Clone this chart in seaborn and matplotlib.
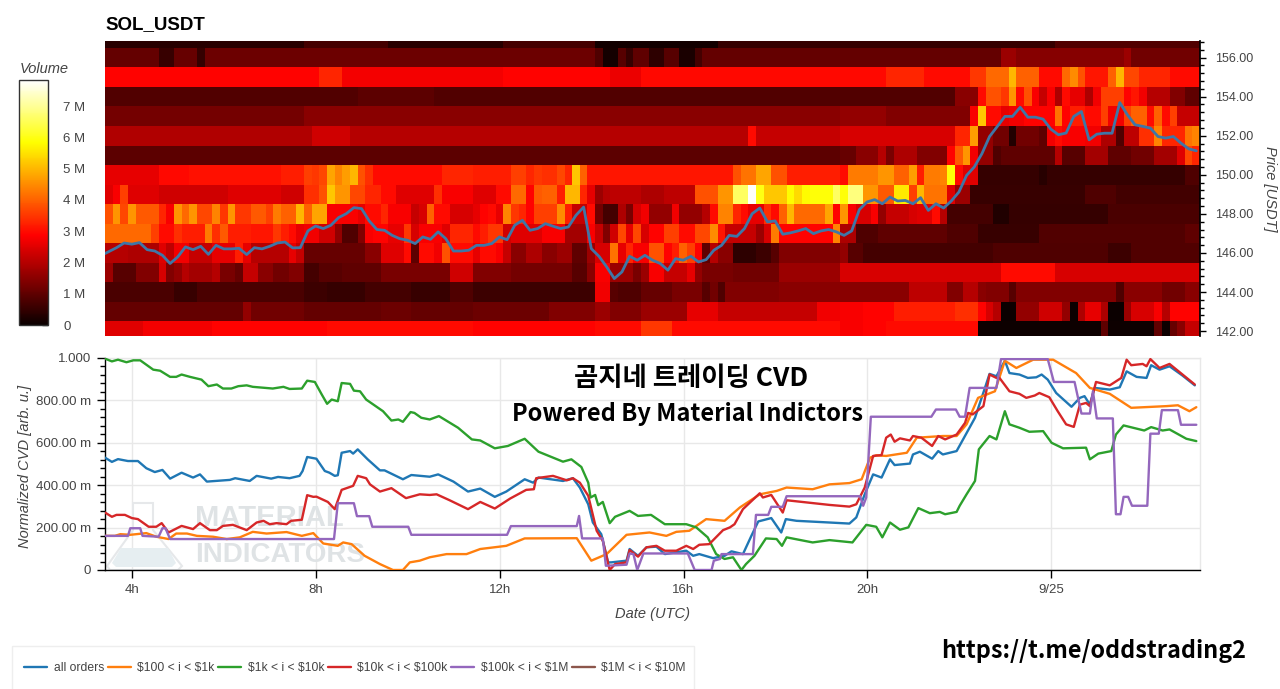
import numpy as np
import pandas as pd
import matplotlib
matplotlib.use("Agg")
import matplotlib.pyplot as plt
from matplotlib.patches import Polygon, Rectangle
from matplotlib.ticker import MultipleLocator, FixedLocator, NullLocator
from matplotlib.transforms import Affine2D
import seaborn as sns

# time axis: 10 minute bins, first bin starts at T0 hours
T0 = 3.41
T1 = 27.24
N_BINS = 143

price_levels = [157, 156, 155, 154, 153, 152, 151, 150, 149, 148, 147, 146, 145, 144, 143, 142]
price_ticks = [156, 154, 152, 150, 148, 146, 144, 142]
volume_ticks = [0, 1, 2, 3, 4, 5, 6, 7]
hour_ticks = [4, 8, 12, 16, 20, 24]
hour_labels = ["4h", "8h", "12h", "16h", "20h", "9/25"]
cvd_ticks = [0, 0.2, 0.4, 0.6, 0.8, 1.0]
cvd_labels = ["0", "200.00 m", "400.00 m", "600.00 m", "800.00 m", "1.000"]

# volume per price row in M, as (last bin of the run, value)
vol_157 = [(25, .35), (36, .7), (51, .35), (63, .7), (79, .12), (81, .5), (123, .5), (142, .85)]
vol_156 = [(6, 1.05), (8, .55), (11, 1.1), (12, .5), (63, 1.15), (64, .8), (66, .15), (67, .9), (68, .5), (70, 1.0),
           (72, .4), (74, .9), (76, .2), (77, .7), (116, 1.05), (118, 1.7), (132, 1.45), (133, 1.7), (142, 1.2)]
vol_155 = [(27, 2.9), (30, 3.3), (51, 2.75), (65, 2.9), (69, 2.65), (101, 2.95), (106, 3.3), (112, 3.0), (114, 3.5),
           (117, 4.1), (118, 5.0), (121, 4.0), (124, 3.0), (125, 4.1), (126, 4.5), (127, 3.8), (130, 3.1), (131, 4.0),
           (132, 5.0), (134, 3.7), (138, 3.3), (142, 3.0)]
vol_154 = [(32, .85), (42, .95), (110, .85), (113, 1.5), (114, 3.0), (116, 3.8), (117, 3.5), (118, 4.6), (119, 3.0),
           (120, 3.8), (121, 2.8), (122, 2.2), (123, 2.8), (124, 1.9), (125, 3.0), (127, 2.6), (128, 1.9), (129, 2.7),
           (132, 3.6), (133, 2.9), (134, 3.1), (135, 2.7), (138, 2.0), (140, 1.4), (142, 1.0)]
vol_153 = [(25, 1.25), (95, 1.5), (101, 1.6), (112, 1.4), (113, 2.8), (114, 5.2), (116, 3.0), (117, 2.6), (119, 2.7),
           (123, 2.9), (124, 4.2), (125, 2.9), (127, 3.2), (129, 3.0), (130, 3.6), (132, 2.7), (133, 3.6), (135, 4.0),
           (136, 3.0), (137, 4.0), (138, 3.0), (139, 3.6), (142, 2.2)]
vol_152 = [(26, 1.95), (31, 2.3), (83, 2.0), (84, 3.0), (95, 2.2), (110, 2.4), (112, 3.3), (113, 4.7), (115, 1.6),
           (117, 1.2), (118, .3), (121, 1.2), (122, 1.0), (123, 2.7), (124, 3.0), (127, 2.8), (129, 2.7), (131, 1.9),
           (132, .8), (134, 2.1), (136, 3.4), (137, 4.4), (140, 3.3), (141, 4.2), (142, 4.4)]
vol_151 = [(95, .95), (97, 1.1), (100, 1.5), (101, 2.0), (102, 1.3), (105, 1.9), (109, 1.4), (110, 2.9), (111, 3.9),
           (112, 4.6), (113, 2.7), (115, 1.6), (116, .8), (123, 1.0), (124, 2.0), (127, .9), (130, 1.8), (133, 1.0),
           (136, 1.2), (139, 1.8), (140, 2.5), (141, 3.7), (142, 3.3)]
vol_150 = [(6, 2.6), (10, 2.95), (22, 3.05), (25, 3.2), (26, 3.6), (27, 3.5), (28, 3.7), (29, 4.8), (30, 4.4), (31, 4.7),
           (32, 5.0), (33, 3.8), (34, 3.4), (43, 3.0), (47, 3.3),
           (52, 3.2), (54, 3.6), (55, 3.3), (56, 3.5), (58, 3.4), (59, 3.7), (60, 3.3), (61, 5.2), (62, 4.0), (81, 3.1),
           (82, 3.8), (84, 4.2), (86, 4.8), (88, 3.8), (95, 3.2),
           (96, 3.0), (100, 4.3), (102, 4.6), (104, 4.0), (105, 4.7), (106, 3.2), (108, 4.3), (109, 4.4), (110, 5.9),
           (111, 3.0), (113, 2.5), (121, .5), (122, .35), (140, .5), (142, .8)]
vol_149 = [(0, 2.5), (1, 2.8), (2, 3.6), (6, 2.5), (15, 2.3), (22, 2.5), (25, 2.3), (27, 3.4), (28, 3.8), (29, 5.2),
           (31, 4.6), (33, 3.7), (35, 3.3), (37, 3.0), (42, 2.5), (43, 3.4), (47, 2.8),
           (50, 2.5), (52, 3.0), (54, 4.1), (55, 2.9), (56, 3.9), (58, 4.0), (59, 3.2), (61, 5.0), (62, 3.3), (63, 2.6),
           (64, 1.7), (65, 2.0), (69, 2.1), (72, 1.9), (76, 2.1), (79, 3.8), (81, 4.6), (83, 6.6), (84, 7.8), (85, 6.0),
           (88, 5.2), (89, 5.8), (90, 5.4), (91, 5.8), (94, 5.9), (95, 6.6),
           (96, 5.9), (98, 6.8), (100, 4.6), (102, 3.9), (104, 5.6), (105, 3.6), (106, 5.0), (109, 4.2), (110, 2.5),
           (112, 1.7), (127, .55), (131, .8), (142, .65)]
vol_148 = [(0, 3.8), (1, 4.6), (2, 3.7), (3, 4.6), (6, 3.9), (7, 3.3), (8, 2.8), (9, 4.6), (10, 4.1), (11, 4.6), (13, 3.7),
           (14, 4.4), (15, 3.5), (16, 4.6), (18, 3.5), (20, 3.9), (21, 3.6), (22, 4.3), (24, 4.0), (25, 5.0), (26, 4.0),
           (28, 4.8), (32, 2.8), (33, 2.6), (35, 3.0), (36, 3.3), (39, 2.8), (40, 2.2), (41, 2.4), (42, 4.0), (44, 3.0),
           (47, 2.4),
           (48, 2.6), (49, 2.9), (50, 3.0), (51, 2.6), (52, 4.4), (53, 3.5), (54, 3.3), (55, 2.9), (58, 3.6), (59, 4.5),
           (60, 3.2), (62, 2.2), (63, 3.0), (64, 1.2), (66, .7), (67, 1.9), (68, 1.3), (69, 2.4), (70, 2.7), (73, 1.6),
           (74, 2.7), (77, 1.6), (78, 2.0), (79, 3.0), (81, 4.4), (82, 3.3), (83, 3.0), (85, 2.6), (86, 3.4), (87, 3.0),
           (88, 4.0), (89, 5.0), (93, 4.1), (94, 4.8), (95, 2.9),
           (96, 4.6), (97, 2.8), (99, 2.4), (100, 2.8), (101, 1.6), (104, 2.2), (105, 2.4), (107, 2.5), (108, 3.0),
           (109, 2.0), (115, .7), (117, .25), (130, .5), (142, .75)]
vol_147 = [(5, 4.1), (6, 3.6), (8, 3.0), (9, 3.4), (12, 3.2), (13, 4.3), (14, 3.4), (15, 3.9), (18, 3.2), (21, 3.1),
           (22, 3.5), (23, 3.2), (24, 3.0), (25, 2.6), (27, 2.7), (29, 2.3), (30, 1.6), (32, .8), (33, 1.4), (34, 2.8),
           (36, 2.9), (38, 2.6), (39, 3.5), (40, 2.4), (43, 2.8), (44, 2.5), (47, 3.3),
           (48, 3.0), (49, 3.2), (51, 3.5), (52, 2.3), (56, 2.5), (59, 2.8), (62, 1.8), (63, 2.8), (64, 2.2), (65, 1.4),
           (66, 2.3), (67, 3.7), (68, 2.6), (69, 3.7), (70, 2.4), (72, 2.9), (74, 3.6), (76, 3.0), (78, 3.7), (79, 4.5),
           (80, 3.1), (84, 2.2), (85, 1.7), (86, 2.4), (87, 4.3), (94, 2.9), (95, 4.4),
           (97, 1.9), (100, .8), (109, 1.0), (113, .8), (121, .55), (140, .85), (142, 1.0)]
vol_146 = [(2, 2.0), (6, 1.9), (7, 2.5), (8, 2.1), (10, 2.7), (13, 2.2), (16, 2.6), (17, 3.2), (18, 2.6), (23, 2.0),
           (24, 2.6), (25, 2.2), (33, 1.1), (35, 1.5), (38, 2.5), (39, 3.0), (40, 1.0), (42, 3.0), (43, 2.7), (44, 3.8),
           (47, 3.0),
           (48, 2.6), (50, 3.0), (51, 2.8), (52, 2.2), (54, 1.5), (56, 1.9), (58, 1.5), (60, 1.7), (62, 1.0), (63, 1.7),
           (65, 2.4), (66, 4.2), (67, 2.6), (68, 3.3), (70, 2.8), (72, 3.8), (73, 2.9), (74, 3.2), (75, 4.0), (76, 3.6),
           (77, 2.9), (78, 1.0), (79, 2.0), (81, 1.5), (84, .4), (86, .6), (87, .9), (95, 1.4),
           (96, 1.6), (98, .9), (115, .7), (130, .8), (133, .6), (142, .85)]
vol_145 = [(0, 1.7), (3, .9), (6, 1.4), (7, 2.4), (8, 1.4), (9, 1.6), (10, 2.0), (13, 1.8), (14, 2.0), (16, 1.3), (17, 1.1),
           (19, 2.2), (21, 1.5), (23, 1.2), (25, 1.4), (27, .7), (30, .9), (35, 1.0), (44, 1.3), (47, 2.3),
           (52, 1.4), (60, 1.25), (62, .9), (63, 1.5), (65, 2.8), (68, 1.7), (69, 1.3), (70, 1.7), (72, 2.8), (75, 2.2),
           (76, 2.6), (77, 1.6), (81, 1.3), (87, 1.2), (95, 1.7),
           (116, 2.4), (123, 3.0), (142, 2.4)]
vol_144 = [(8, .75), (11, .55), (25, .75), (28, .6), (33, .5), (39, .7), (44, .55), (47, .8),
           (63, .6), (65, 2.7), (66, .9), (69, .8), (73, 1.1), (77, 1.3), (78, .9), (79, 1.2), (80, .8), (87, 1.4), (95, 1.5),
           (104, 1.5), (109, 2.1), (111, 1.4), (113, 2.0), (114, 1.5), (117, 1.4), (118, .9), (131, 1.4), (132, .8),
           (137, 1.5), (140, 1.2), (142, 1.5)]
vol_143 = [(17, 1.05), (18, 1.6), (25, 1.2), (35, 1.05), (39, 1.15), (47, 1.05),
           (57, 1.15), (63, 1.4), (65, 1.7), (69, 1.4), (75, 1.7), (79, 2.6), (92, 2.2), (95, 2.7),
           (98, 2.8), (102, 2.9), (110, 3.2), (113, 3.4), (114, 2.9), (115, 2.4), (116, 2.0), (118, 0), (121, 1.6), (124, 2.3),
           (125, 1.6), (126, 0), (127, 1.9), (129, 2.6), (130, 1.9), (132, 0), (133, 1.7), (136, 2.4), (137, 2.8), (138, 2.0),
           (142, 2.9)]
vol_142 = [(4, 2.5), (13, 2.75), (28, 2.9), (47, 3.0),
           (63, 2.9), (69, 3.0), (73, 3.5), (95, 3.0),
           (98, 2.8), (101, 2.9), (113, 3.0), (129, .05), (130, 1.0), (136, .05), (137, 1.0), (138, .05), (139, 1.1),
           (140, 1.5), (142, 2.2)]

# price per bin
price = [145.97, 146.27, 146.51, 146.45, 146.53, 146.17, 146.10, 145.88, 145.46, 145.80, 146.31, 146.17,
         146.34, 145.93, 146.39, 146.21, 146.21, 146.24, 145.92, 146.27, 146.21, 146.34, 146.51, 146.56,
         146.26, 146.27, 147.13, 147.38, 147.25, 147.42, 147.81, 148.01, 148.32, 148.27, 147.64, 147.20,
         147.16, 146.90, 146.73, 146.65, 146.48, 146.82, 146.70, 147.08, 146.73, 146.10, 146.10, 146.14,
         146.39, 146.39, 146.48, 146.82, 146.68, 147.42, 147.67, 147.16, 147.25, 147.50, 147.37, 147.25,
         147.33, 147.93, 148.35, 146.22, 145.83, 145.29, 144.69, 145.03, 145.83, 145.63, 145.88, 145.63,
         145.46, 145.12, 145.71, 145.63, 145.83, 145.54, 145.66, 146.14, 146.39, 146.90, 146.85, 147.25,
         148.01, 148.30, 147.59, 147.64, 146.96, 147.03, 147.13, 147.25, 146.99, 147.13, 147.20, 147.08,
         146.90, 147.13, 148.22, 148.61, 148.73, 148.52, 148.86, 148.66, 148.69, 148.52, 148.83, 148.18,
         148.52, 148.30, 148.66, 149.12, 149.97, 150.40, 151.08, 151.96, 152.47, 152.99, 152.99, 153.46,
         152.95, 152.95, 152.85, 152.34, 152.05, 152.14, 152.99, 153.24, 151.79, 152.08, 152.13, 152.13,
         153.70, 153.07, 152.56, 152.48, 152.39, 151.96, 151.88, 151.96, 151.62, 151.33, 151.23]

# normalized CVD as (bin, value)
all_orders = [(0, .53), (.9, .51), (1.7, .523), (3, .514), (4.3, .514), (5.4, .48), (6.5, .462), (7.5, .472), (8.5, .431),
              (10, .459), (11.5, .436), (12.4, .451), (13.3, .417), (16.3, .425), (17, .433), (18.9, .42), (19.8, .444),
              (21.7, .431), (22.6, .439), (24.1, .433), (25.4, .444), (25.8, .467), (26.4, .533), (27.6, .525), (28.7, .467),
              (29.3, .459), (30, .444), (30.4, .447), (30.9, .553), (32, .561), (32.4, .549), (33, .569), (34.3, .522),
              (35.9, .47), (36.5, .47), (38.9, .428), (40, .448), (42.4, .44), (43.5, .451), (45.5, .417), (47.4, .37),
              (49, .384), (50.9, .345), (52.4, .37), (54.8, .428), (55.9, .412), (56.6, .436), (59.8, .42), (61.1, .433),
              (62, .389), (63.1, .31), (63.7, .224), (64.8, .169), (65.7, .036), (66.1, .036), (68.1, .044), (68.5, .099),
              (69.6, .067), (70.7, .107), (72, .11), (73.1, .075), (75.9, .091), (76.8, .067), (77.6, .075), (79.4, .056),
              (80.9, .067), (81.8, .088), (83.3, .075), (84.4, .161), (85.3, .229), (87, .245), (88.3, .177), (88.9, .24),
              (90.3, .232), (94.6, .224), (97.2, .219), (98.1, .248), (99.2, .357), (100.3, .451), (101.4, .436),
              (102.5, .522), (103.1, .495), (105.1, .502), (105.5, .545), (106.4, .558), (108, .525), (108.8, .561),
              (109.4, .545), (111.2, .561), (111.8, .6), (113.6, .718), (114.9, .859), (115.5, .925), (116.4, .914),
              (117.5, .987), (118.1, .929), (119.4, .922), (120.5, .906), (121.6, .909), (122.3, .922), (123.1, .898),
              (124.2, .835), (126.2, .77), (127.3, .812), (127.9, .82), (128.6, .78), (129.2, .859), (131.2, .851),
              (132.5, .862), (133.4, .937), (134.7, .911), (136, .906), (136.6, .966), (137.7, .945), (139, .961),
              (140.7, .917), (142.3, .871)]
orders_100_1k = [(0, .161), (1.3, .161), (2, .169), (3.3, .166), (5.4, .174), (6.7, .157), (8.3, .146), (9.3, .172),
                 (10.7, .172), (12, .161), (14.1, .157), (15.9, .146), (17.6, .154), (19.3, .18), (21.1, .172), (23.7, .179),
                 (25.7, .161), (27.2, .174), (28.5, .125), (30.4, .114), (31.1, .13), (32.2, .122), (33.9, .067), (35.9, .028),
                 (37.6, 0), (38.9, 0), (39.8, .036), (41.1, .044), (42.4, .06), (44.6, .075), (47.2, .075), (49, .099),
                 (52.4, .114), (54.8, .149), (61.6, .15), (63.5, .044), (65.5, .075), (68.1, .166), (71.1, .177), (73.3, .161),
                 (74.6, .18), (76.3, .185), (78.5, .24), (80.9, .232), (82.9, .295), (85.5, .357), (87.7, .373), (89, .389),
                 (92.4, .381), (94.6, .404), (97.2, .41), (98.8, .428), (99.9, .53), (100.7, .541), (102, .538), (104.7, .553),
                 (106, .624), (109.4, .632), (111.2, .632), (112.5, .687), (114, .812), (116.2, .843), (117.5, .987), (119, .953),
                 (121.2, .992), (123.8, .992), (126.8, .929), (128.6, .859), (131.2, .831), (134, .765), (138.6, .773),
                 (140.1, .777), (141.6, .749), (142.5, .768)]
orders_1k_10k = [(0, .997), (.9, .984), (1.7, .992), (2.8, .98), (3.7, .989), (4.6, .989), (6.3, .945), (7.2, .94), (8.5, .911),
                 (9.3, .911), (10, .922), (11.1, .911), (12.6, .898), (13.5, .867), (14.6, .875), (15.4, .856), (16.5, .856),
                 (17.4, .867), (18.5, .871), (19.3, .864), (21.9, .856), (23.3, .864), (24.1, .854), (25.7, .856), (26.4, .893),
                 (27.4, .887), (28.3, .828), (29, .784), (29.6, .804), (30.4, .796), (30.9, .882), (32, .878), (32.5, .846),
                 (33.3, .843), (34.1, .804), (36.3, .749), (37.4, .705), (38.3, .71), (38.9, .699), (39.9, .745), (40.4, .741),
                 (41.3, .718), (42.4, .71), (43.6, .726), (46.1, .671), (47.9, .616), (49, .611), (50.9, .574), (52.6, .585),
                 (54.8, .619), (56.6, .558), (59.8, .511), (60.9, .522), (62.2, .486), (63.1, .412), (63.4, .342), (64, .354),
                 (64.4, .306), (65, .321), (65.9, .221), (66.6, .251), (68.5, .279), (69.6, .255), (71.3, .26), (73.1, .216),
                 (75.9, .216), (77.2, .201), (78.7, .154), (79.8, .075), (80.9, .052), (82, .06), (83.1, 0), (83.7, .028),
                 (84.8, .067), (86.3, .149), (87.7, .146), (88.4, .114), (89, .154), (92.4, .13), (94.6, .141), (97.6, .13),
                 (99.4, .213), (100.7, .204), (101.5, .154), (102.5, .224), (103.8, .19), (104.9, .201), (106.2, .292),
                 (107.7, .268), (109, .274), (109.7, .263), (111.2, .274), (111.6, .303), (112.5, .357), (113.6, .42),
                 (114.1, .569), (115.5, .632), (116.4, .616), (117.5, .749), (118.1, .687), (119.4, .671), (120.7, .652),
                 (122.5, .655), (123.6, .6), (125.1, .574), (128.1, .577), (128.6, .522), (129.7, .549), (131.4, .561),
                 (132, .639), (133, .682), (135.7, .658), (136.6, .674), (138.1, .658), (139, .663), (141.2, .619), (142.5, .608)]
orders_10k_100k = [(0, .271), (.9, .251), (1.5, .26), (2.6, .26), (3.5, .245), (4.3, .24), (5.7, .204), (6.7, .204), (7.4, .221),
                   (8.3, .177), (10, .208), (11.5, .193), (12.4, .221), (13.7, .188), (14.6, .188), (15.4, .208), (16.7, .213),
                   (18.5, .188), (19.8, .224), (20.7, .232), (21.5, .216), (22.4, .221), (23.7, .216), (24.3, .232), (25.7, .237),
                   (26.4, .353), (27.2, .345), (27.6, .346), (29.1, .321), (30, .287), (30.9, .378), (32.4, .397), (33, .444),
                   (34.1, .433), (34.6, .404), (35.9, .37), (37.4, .386), (39.3, .339), (41.1, .357), (42.4, .354), (43.3, .357),
                   (45, .329), (47.4, .287), (49, .321), (50.9, .29), (52.9, .337), (55, .378), (56, .381), (56.3, .433),
                   (58.5, .444), (60.3, .423), (61.1, .433), (62, .412), (63.1, .35), (64.2, .185), (65, .138), (65.9, 0),
                   (66.6, .028), (68.1, .036), (68.5, .094), (69.6, .063), (70.7, .107), (72, .114), (73.1, .091), (74.6, .091),
                   (75.9, .114), (76.8, .099), (77.6, .119), (78.9, .122), (80.7, .188), (81.6, .201), (82.2, .216), (83.3, .287),
                   (85.5, .362), (85.9, .342), (87, .354), (88.5, .271), (89, .329), (94.6, .307), (97.2, .299), (98.1, .31),
                   (99.2, .389), (100.3, .538), (101.4, .542), (102, .624), (102.6, .639), (103.1, .605), (103.8, .621),
                   (105.1, .611), (105.5, .632), (106.6, .624), (108, .585), (108.8, .632), (109.7, .616), (111.2, .639),
                   (112.3, .694), (112.7, .741), (113.3, .734), (114.7, .773), (115.5, .922), (116.4, .906), (116.8, .906),
                   (118.1, .843), (119.4, .831), (120.3, .812), (121.4, .823), (122, .835), (123.3, .815), (124.4, .749),
                   (125.5, .687), (126.5, .675), (127.3, .78), (128.1, .788), (128.6, .773), (129.4, .887), (131.2, .871),
                   (132.7, .906), (133.4, .992), (134, .966), (135.5, .972), (136, .961), (136.5, .995), (137.7, .953),
                   (139, .972), (140.7, .922), (142.3, .875)]
orders_100k_1m = [(0, .161), (3, .161), (3.3, .197), (4.6, .197), (4.9, .161), (7, .157), (7.5, .197), (7.9, .197), (8.5, .146),
                  (29.9, .146), (30.4, .315), (32.5, .315), (32.9, .254), (34.5, .254), (34.9, .204), (39.6, .204), (40, .166),
                  (52.5, .166), (53, .207), (61.6, .207), (61.9, .255), (62.3, .149), (65, .149), (65.4, .02), (68.1, .025),
                  (68.5, .078), (69, .075), (69.5, 0), (70.3, .078), (76.1, .078), (77, 0), (79.2, 0), (79.5, .044), (80.3, .052),
                  (80.5, .075), (84.6, .075), (85, .26), (86.6, .26), (87, .298), (88.5, .298), (89, .348), (98.6, .348),
                  (99, .303), (99.4, .342), (100, .723), (107.9, .723), (108.5, .757), (111.1, .757), (111.6, .723), (112.3, .723),
                  (112.9, .859), (116.4, .859), (117, .995), (123.1, .995), (123.9, .887), (126.6, .887), (127.5, .738),
                  (128.6, .738), (129, .843), (129.5, .715), (131.6, .715), (132, .263), (132.6, .263), (133, .345), (133.6, .345),
                  (134.1, .303), (136.1, .303), (136.5, .643), (137.6, .643), (138, .754), (140.1, .754), (140.5, .685), (142.5, .685)]

W, H = 1280, 689
sns.set_theme(style="white")
plt.rcParams["font.family"] = ["Liberation Sans", "DejaVu Sans"]
plt.rcParams["text.color"] = "#444444"
plt.rcParams["axes.labelcolor"] = "#444444"
plt.rcParams["xtick.color"] = "#444444"
plt.rcParams["ytick.color"] = "#444444"


def box(x0, y0, x1, y1):
    # pixel box, measured from the top left corner
    return [x0 / W, 1 - y1 / H, (x1 - x0) / W, (y1 - y0) / H]


def expand(runs):
    out = np.zeros(N_BINS)
    start = 0
    for last, val in runs:
        out[start:last + 1] = val
        start = last + 1
    return out


fig = plt.figure(figsize=(W / 100, H / 100), dpi=100, facecolor="white")
ax_top = fig.add_axes(box(105, 41, 1200, 336))
ax_bar = fig.add_axes(box(19, 80, 48, 325))
ax_cvd = fig.add_axes(box(105, 358, 1200, 570))

# price / volume heatmap
volume = pd.DataFrame([expand(r) for r in (vol_157, vol_156, vol_155, vol_154, vol_153, vol_152, vol_151, vol_150,
                                            vol_149, vol_148, vol_147, vol_146, vol_145, vol_144, vol_143, vol_142)],
                      index=price_levels)
sns.heatmap(volume, ax=ax_top, cmap="hot", vmin=0, vmax=7.84, cbar_ax=ax_bar, xticklabels=False, yticklabels=False,
            rasterized=True)
price_x = np.arange(N_BINS) + 0.5
price_x[0] = 0
sns.lineplot(x=price_x, y=157.5 - np.array(price), ax=ax_top, color="#3f76a6", linewidth=2.0, sort=False, estimator=None,
             legend=False)
ax_top.set_xlim(0, (T1 - T0) * 6)
ax_top.set_ylim(15.75, 0.65)
ax_top.yaxis.tick_right()
ax_top.yaxis.set_major_locator(FixedLocator([157.5 - p for p in price_ticks]))
ax_top.set_yticklabels(["%.2f" % p for p in price_ticks], fontsize=9, rotation=0, color="#444444")
ax_top.yaxis.set_minor_locator(FixedLocator([157.5 - (142 + 0.4 * i) for i in range(-1, 38)]))
ax_top.tick_params(axis="y", which="major", right=True, length=4.5, width=1, color="black", pad=6)
ax_top.tick_params(axis="y", which="minor", right=True, length=3, width=1, color="black")
ax_top.tick_params(axis="x", bottom=False, top=False)
ax_top.set_xlabel("")
ax_top.set_ylabel("")
for name, sp in ax_top.spines.items():
    sp.set_visible(name == "right")
    sp.set_color("black")
fig.text(1270 / W, 1 - 189 / H, "Price [USDT]", fontsize=10.5, style="italic", rotation=270, color="#444444", ha="center", va="center")
fig.text(105 / W, 1 - 25 / H, "SOL_USDT", fontsize=13.5, fontweight="bold", color="black", va="center", ha="left")

# colour bar
cbar = ax_top.collections[0].colorbar
cbar.set_ticks(volume_ticks)
cbar.set_ticklabels(["0", "1 M", "2 M", "3 M", "4 M", "5 M", "6 M", "7 M"])
ax_bar.tick_params(axis="y", which="major", direction="in", length=4, width=1, color="#222222", labelsize=9.5, pad=11,
                   right=True, left=False, labelcolor="#444444")
cbar.outline.set_visible(True)
cbar.outline.set_edgecolor("#333333")
cbar.outline.set_linewidth(1)
fig.text(20 / W, 1 - 69 / H, "Volume", fontsize=10.5, style="italic", color="#444444", va="center", ha="left")

# CVD lines
series = [("all orders", all_orders, "#1f77b4"), ("$100 < i < $1k", orders_100_1k, "#ff7f0e"),
          ("$1k < i < $10k", orders_1k_10k, "#2ca02c"), ("$10k < i < $100k", orders_10k_100k, "#d62728"),
          ("$100k < i < $1M", orders_100k_1m, "#9467bd")]
for label, pts, color in series:
    bins, vals = np.array(pts).T
    sns.lineplot(x=T0 + bins / 6, y=vals, ax=ax_cvd, color=color, linewidth=1.7, label=label.replace("$", r"\$"),
                 sort=False, estimator=None, zorder=3, clip_on=True)
ax_cvd.plot([], [], color="#8c564b", linewidth=1.7, label=r"\$1M < i < \$10M")

ax_cvd.set_xlim(T0, T1)
ax_cvd.set_ylim(0, 1)
ax_cvd.set_xticks(hour_ticks)
ax_cvd.set_xticklabels(hour_labels, fontsize=9.5)
ax_cvd.set_yticks(cvd_ticks)
ax_cvd.set_yticklabels(cvd_labels, fontsize=9.5)
ax_cvd.yaxis.set_minor_locator(MultipleLocator(0.04))
ax_cvd.xaxis.set_minor_locator(NullLocator())
ax_cvd.tick_params(axis="both", which="major", length=6, width=1, color="black", pad=4, bottom=True, left=True)
ax_cvd.tick_params(axis="y", which="minor", length=3.5, width=1, color="black", left=True)
ax_cvd.grid(True, which="major", color="#e8e8e8", linewidth=1)
ax_cvd.set_axisbelow(True)
ax_cvd.set_xlabel("Date (UTC)", fontsize=10.5, style="italic", labelpad=8, color="#444444")
ax_cvd.set_ylabel("Normalized CVD [arb. u.]", fontsize=10.5, style="italic", labelpad=3, color="#444444", y=0.49)
ax_cvd.spines["left"].set_color("black")
ax_cvd.spines["bottom"].set_color("black")
ax_cvd.spines["top"].set_color("#e8e8e8")
ax_cvd.spines["right"].set_color("#e8e8e8")
for sp in ax_cvd.spines.values():
    sp.set_linewidth(1)

# legend box runs off the bottom edge, drawn apart from the entries
fig.add_artist(Rectangle((12 / W, 1 - 690 / H), 682 / W, 44 / H, transform=fig.transFigure, facecolor="white",
                         edgecolor="#eeeeee", linewidth=1, zorder=-1))
leg = ax_cvd.legend(loc="center left", bbox_to_anchor=(24 / W, 1 - 668 / H), bbox_transform=fig.transFigure, ncol=6,
                    fontsize=8.7, frameon=False, borderaxespad=0, borderpad=0, handlelength=1.9, handletextpad=0.55,
                    columnspacing=0.3, labelcolor="#444444")

# watermark behind the lines
to_px = Affine2D().scale(1, -1).translate(0, H)
ax_cvd.add_patch(Polygon([(133, 503), (153, 503), (153, 530), (182, 566), (178, 570), (110, 570), (107, 566), (133, 530)],
                         closed=True, facecolor="none", edgecolor="#e6e8ea", linewidth=1.5, transform=to_px, zorder=1))
ax_cvd.add_patch(Polygon([(121, 548), (168, 548), (176, 563), (172, 567), (116, 567), (112, 563)],
                         closed=True, facecolor="#e6eef1", edgecolor="none", transform=to_px, zorder=1))
ax_cvd.text(195, 518, "MATERIAL", transform=to_px, fontsize=21, fontweight="bold", color="#dfe3e5", va="center", ha="left", zorder=1)
ax_cvd.text(195, 555, "INDICATORS", transform=to_px, fontsize=20, fontweight="bold", color="#dfe3e5", va="center", ha="left", zorder=1)

# text pasted over the chart
cjk = ["Noto Sans CJK KR", "DejaVu Sans"]
fig.text(691 / W, 1 - 379 / H, "곰지네 트레이딩 CVD", fontsize=19, fontweight="bold", color="black", family=cjk, ha="center", va="center")
fig.text(688 / W, 1 - 414 / H, "Powered By Material Indictors", fontsize=17, fontweight="bold", color="black", family=cjk, ha="center", va="center")
fig.text(1094 / W, 1 - 651 / H, "https://t.me/oddstrading2", fontsize=16.8, fontweight="bold", color="black", family=cjk, ha="center", va="center")

fig.savefig("out.png", dpi=100)
